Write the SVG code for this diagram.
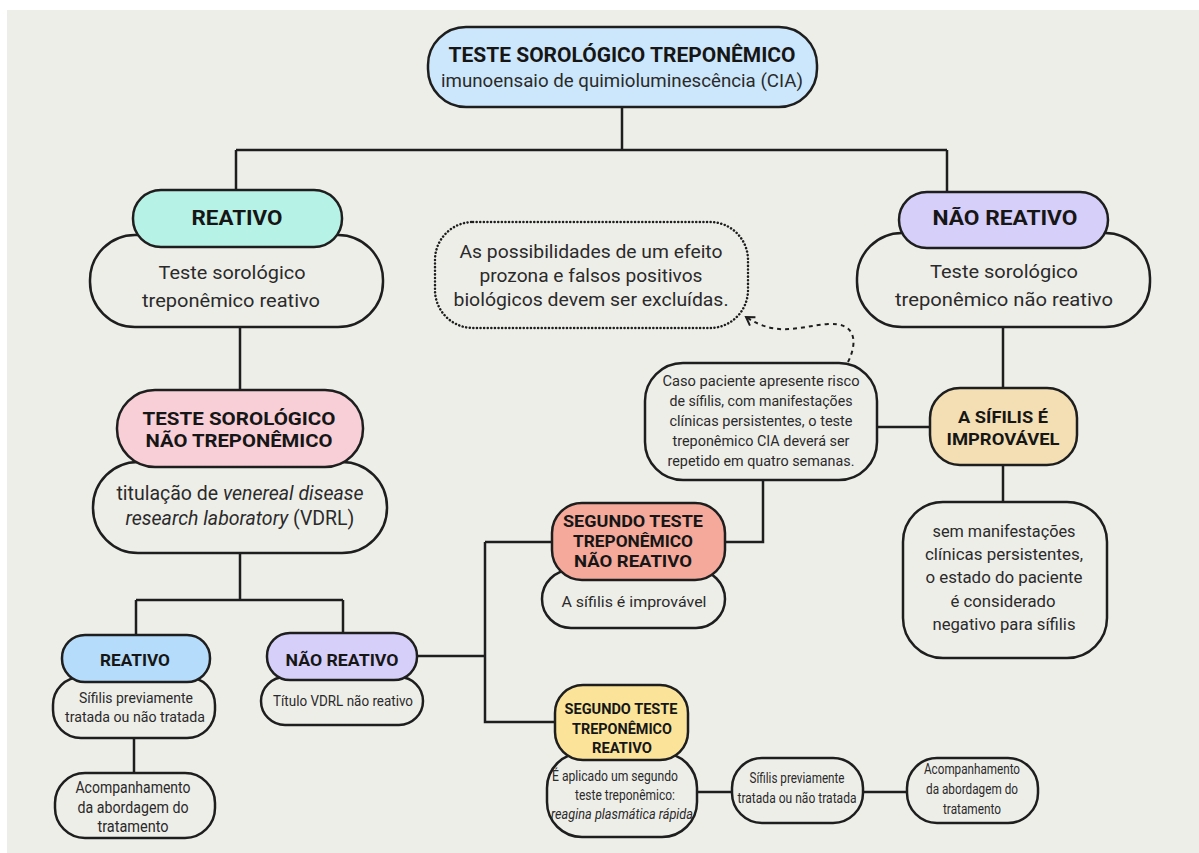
<svg xmlns="http://www.w3.org/2000/svg" width="1199" height="853" viewBox="0 0 1199 853">
<defs>
<style>
.bx{stroke:#1e1e1e;stroke-width:2.5;fill:#eeeee9}
.ln{stroke:#1e1e1e;stroke-width:2.5;fill:none}
text{font-family:Roboto,"Liberation Sans",sans-serif;fill:#2a2a2a;text-anchor:middle}
.b{font-weight:700;fill:#161616}
.i{font-style:italic}
</style>
<marker id="chev" viewBox="-10 -6 12 12" refX="0" refY="0" markerWidth="12" markerHeight="12" markerUnits="userSpaceOnUse" orient="auto">
<path d="M-8,-5 L0,0 L-8,5" fill="none" stroke="#1e1e1e" stroke-width="2"/>
</marker>
</defs>
<rect width="1199" height="853" fill="#ffffff"/>
<rect x="7" y="10" width="1192" height="843" fill="#eeeee9"/>

<g id="connectors">
<path class="ln" d="M622,107 V150 M236,150 H947 M236,150 V191 M947,150 V192"/>
<path class="ln" d="M240,327 V390 M240,553 V600 M136,600 H343 M136,600 V635 M343,600 V633"/>
<path class="ln" d="M134,738 V773 M417,656 H485 M485,542 V722 H556 M485,542 H552"/>
<path class="ln" d="M725,542 H763 V480 M877,427 H930 M1003,327 V388 M1003,465 V502"/>
<path class="ln" d="M697,792 H732 M863,792 H907"/>
<path d="M848,362 C858,342 856,322 828,324 C800,326 778,338 746,317" fill="none" stroke="#1e1e1e" stroke-width="2" stroke-dasharray="4 4" marker-end="url(#chev)"/>
</g>

<g id="top">
<rect class="bx" x="428" y="27" width="389" height="80" rx="38" style="fill:#cce7fb"/>
<text class="b" x="622" y="62" font-size="20" textLength="347" lengthAdjust="spacingAndGlyphs">TESTE SOROLÓGICO TREPONÊMICO</text>
<text x="622" y="87" font-size="19" textLength="362" lengthAdjust="spacingAndGlyphs">imunoensaio de quimioluminescência (CIA)</text>
</g>

<g id="reativo">
<rect class="bx" x="90" y="235" width="293" height="92" rx="45"/>
<rect class="bx" x="133" y="190" width="209" height="57" rx="28" style="fill:#b6f2e6"/>
<text class="b" x="237" y="225" font-size="20" textLength="91" lengthAdjust="spacingAndGlyphs">REATIVO</text>
<text x="232" y="279" font-size="19" textLength="147" lengthAdjust="spacingAndGlyphs">Teste sorológico</text>
<text x="231" y="307" font-size="19" textLength="178" lengthAdjust="spacingAndGlyphs">treponêmico reativo</text>
</g>

<g id="nao-reativo">
<rect class="bx" x="857" y="233" width="293" height="94" rx="45"/>
<rect class="bx" x="899" y="192" width="209" height="56" rx="28" style="fill:#d6cffa"/>
<text class="b" x="1005" y="225" font-size="20" textLength="145" lengthAdjust="spacingAndGlyphs">NÃO REATIVO</text>
<text x="1004" y="278" font-size="19" textLength="148" lengthAdjust="spacingAndGlyphs">Teste sorológico</text>
<text x="1004" y="306" font-size="19" textLength="218" lengthAdjust="spacingAndGlyphs">treponêmico não reativo</text>
</g>

<g id="nao-treponemico">
<rect class="bx" x="93" y="462" width="294" height="91" rx="45"/>
<rect class="bx" x="117" y="390" width="246" height="77" rx="38" style="fill:#f8cfd7"/>
<text class="b" x="239" y="425" font-size="19" textLength="193" lengthAdjust="spacingAndGlyphs">TESTE SOROLÓGICO</text>
<text class="b" x="239" y="447" font-size="19" textLength="187" lengthAdjust="spacingAndGlyphs">NÃO TREPONÊMICO</text>
<text x="240" y="500" font-size="19.5">titulação de <tspan class="i">venereal disease</tspan></text>
<text x="240" y="525" font-size="19.5"><tspan class="i">research laboratory</tspan> (VDRL)</text>
</g>

<g id="vdrl-reativo">
<rect class="bx" x="53" y="677" width="162" height="61" rx="28"/>
<rect class="bx" x="62" y="635" width="148" height="47" rx="23" style="fill:#b5dcfb"/>
<text class="b" x="135" y="666" font-size="17" textLength="70" lengthAdjust="spacingAndGlyphs">REATIVO</text>
<text x="136" y="703" font-size="15" textLength="114" lengthAdjust="spacingAndGlyphs">Sífilis previamente</text>
<text x="135" y="722" font-size="15" textLength="140" lengthAdjust="spacingAndGlyphs">tratada ou não tratada</text>
</g>

<g id="acompanhamento-1">
<rect class="bx" x="55" y="773" width="160" height="65" rx="30"/>
<text x="133" y="793" font-size="16" textLength="115" lengthAdjust="spacingAndGlyphs">Acompanhamento</text>
<text x="133" y="813" font-size="16" textLength="111" lengthAdjust="spacingAndGlyphs">da abordagem do</text>
<text x="133" y="832" font-size="16" textLength="71" lengthAdjust="spacingAndGlyphs">tratamento</text>
</g>

<g id="vdrl-nao-reativo">
<rect class="bx" x="261" y="677" width="162" height="48" rx="24"/>
<rect class="bx" x="267" y="633" width="150" height="47" rx="23" style="fill:#d6cffa"/>
<text class="b" x="342" y="666" font-size="17" textLength="113" lengthAdjust="spacingAndGlyphs">NÃO REATIVO</text>
<text x="343" y="706" font-size="14" textLength="140" lengthAdjust="spacingAndGlyphs">Título VDRL não reativo</text>
</g>

<g id="nota-prozona">
<rect x="435" y="222" width="313" height="106" rx="38" fill="none" stroke="#1e1e1e" stroke-width="2.5" stroke-dasharray="0.1 3.5" stroke-linecap="round"/>
<text x="591" y="258" font-size="18" textLength="263" lengthAdjust="spacingAndGlyphs">As possibilidades de um efeito</text>
<text x="591" y="282" font-size="18" textLength="223" lengthAdjust="spacingAndGlyphs">prozona e falsos positivos</text>
<text x="591" y="306" font-size="18" textLength="275" lengthAdjust="spacingAndGlyphs">biológicos devem ser excluídas.</text>
</g>

<g id="caso-paciente">
<rect class="bx" x="645" y="363" width="232" height="117" rx="38"/>
<text x="761" y="386" font-size="15" textLength="197" lengthAdjust="spacingAndGlyphs">Caso paciente apresente risco</text>
<text x="761" y="406" font-size="15" textLength="183" lengthAdjust="spacingAndGlyphs">de sífilis, com manifestações</text>
<text x="761" y="426" font-size="15" textLength="183" lengthAdjust="spacingAndGlyphs">clínicas persistentes, o teste</text>
<text x="761" y="446" font-size="15" textLength="177" lengthAdjust="spacingAndGlyphs">treponêmico CIA deverá ser</text>
<text x="761" y="466" font-size="15" textLength="187" lengthAdjust="spacingAndGlyphs">repetido em quatro semanas.</text>
</g>

<g id="sifilis-improvavel">
<rect class="bx" x="930" y="388" width="147" height="77" rx="30" style="fill:#f3dfb3"/>
<text class="b" x="1003" y="423" font-size="17" textLength="90" lengthAdjust="spacingAndGlyphs">A SÍFILIS É</text>
<text class="b" x="1003" y="445" font-size="17" textLength="113" lengthAdjust="spacingAndGlyphs">IMPROVÁVEL</text>
</g>

<g id="sem-manifestacoes">
<rect class="bx" x="903" y="502" width="204" height="156" rx="40"/>
<text x="1004" y="537" font-size="17" textLength="143" lengthAdjust="spacingAndGlyphs">sem manifestações</text>
<text x="1004" y="560" font-size="17" textLength="158" lengthAdjust="spacingAndGlyphs">clínicas persistentes,</text>
<text x="1004" y="583" font-size="17" textLength="157" lengthAdjust="spacingAndGlyphs">o estado do paciente</text>
<text x="1003" y="607" font-size="17" textLength="105" lengthAdjust="spacingAndGlyphs">é considerado</text>
<text x="1004" y="630" font-size="17" textLength="143" lengthAdjust="spacingAndGlyphs">negativo para sífilis</text>
</g>

<g id="segundo-nao-reativo">
<rect class="bx" x="542" y="570" width="183" height="58" rx="29"/>
<rect class="bx" x="552" y="503" width="173" height="77" rx="30" style="fill:#f5a99b"/>
<text class="b" x="633" y="527" font-size="16" textLength="140" lengthAdjust="spacingAndGlyphs">SEGUNDO TESTE</text>
<text class="b" x="633" y="547" font-size="16" textLength="120" lengthAdjust="spacingAndGlyphs">TREPONÊMICO</text>
<text class="b" x="633" y="567" font-size="16" textLength="118" lengthAdjust="spacingAndGlyphs">NÃO REATIVO</text>
<text x="634" y="607" font-size="15" textLength="145" lengthAdjust="spacingAndGlyphs">A sífilis é improvável</text>
</g>

<g id="segundo-reativo">
<rect class="bx" x="547" y="753" width="150" height="84" rx="35"/>
<rect class="bx" x="555" y="685" width="133" height="75" rx="28" style="fill:#fbe49a"/>
<text class="b" x="621" y="714" font-size="15.5" textLength="113" lengthAdjust="spacingAndGlyphs">SEGUNDO TESTE</text>
<text class="b" x="622" y="734" font-size="15.5" textLength="100" lengthAdjust="spacingAndGlyphs">TREPONÊMICO</text>
<text class="b" x="622" y="753" font-size="15.5" textLength="60" lengthAdjust="spacingAndGlyphs">REATIVO</text>
<text x="615" y="781" font-size="14" textLength="126" lengthAdjust="spacingAndGlyphs">É aplicado um segundo</text>
<text x="625" y="800" font-size="14" textLength="100" lengthAdjust="spacingAndGlyphs">teste treponêmico:</text>
<text class="i" x="622" y="819" font-size="14" textLength="142" lengthAdjust="spacingAndGlyphs">reagina plasmática rápida</text>
</g>

<g id="sifilis-previamente-2">
<rect class="bx" x="732" y="758" width="131" height="65" rx="30"/>
<text x="797" y="783" font-size="14" textLength="95" lengthAdjust="spacingAndGlyphs">Sífilis previamente</text>
<text x="797" y="803" font-size="14" textLength="119" lengthAdjust="spacingAndGlyphs">tratada ou não tratada</text>
</g>

<g id="acompanhamento-2">
<rect class="bx" x="907" y="758" width="131" height="65" rx="30"/>
<text x="972" y="774" font-size="14" textLength="96" lengthAdjust="spacingAndGlyphs">Acompanhamento</text>
<text x="972" y="794" font-size="14" textLength="92" lengthAdjust="spacingAndGlyphs">da abordagem do</text>
<text x="972" y="814" font-size="14" textLength="58" lengthAdjust="spacingAndGlyphs">tratamento</text>
</g>
</svg>
